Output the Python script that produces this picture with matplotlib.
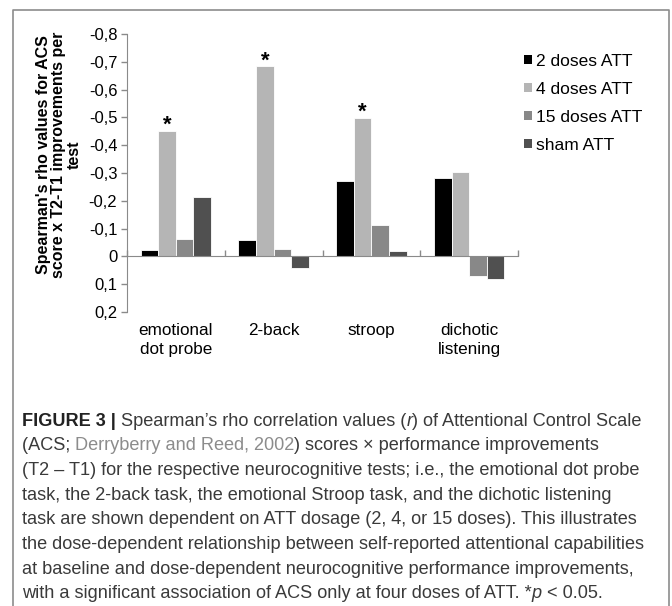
import numpy as np
import matplotlib
matplotlib.use('Agg')
import matplotlib.pyplot as plt
from matplotlib.patches import Patch
from matplotlib.ticker import FuncFormatter
import matplotlib.transforms as mtrans

plt.rcParams['font.family'] = ['Liberation Sans', 'DejaVu Sans']

# data (negative = upward, axis is inverted)
tests = ['emotional\ndot probe', '2-back', 'stroop', 'dichotic\nlistening']
series = ['2 doses ATT', '4 doses ATT', '15 doses ATT', 'sham ATT']
rho_2 = [-0.024, -0.059, -0.273, -0.283]
rho_4 = [-0.451, -0.684, -0.498, -0.304]
rho_15 = [-0.061, -0.025, -0.112, 0.070]
rho_sham = [-0.212, 0.041, -0.020, 0.082]
signif_4 = [True, True, True, False]
yticks = [-0.8, -0.7, -0.6, -0.5, -0.4, -0.3, -0.2, -0.1, 0, 0.1, 0.2]

cols = ['#000000', '#b5b5b5', '#888888', '#505050']
axcol = '#8a8a8a'
fs = 12

W, H = 672, 606
F1 = plt.figure(figsize=(W/100., H/100.), dpi=100)
ax1 = F1.add_axes([127/W, 1-312/H, (518-127)/W, (312-34)/H])

x = np.arange(len(tests)) + 0.5
bw = 0.18
allv = [rho_2, rho_4, rho_15, rho_sham]
for i, vals in enumerate(allv):
    ax1.bar(x + (i-1.5)*bw, vals, bw, color=cols[i], edgecolor='white', linewidth=0.6, label=series[i])

# asterisks over the 4-dose bars
for xi, v, s in zip(x, rho_4, signif_4):
    if s:
        ax1.text(xi - 0.5*bw, v + 0.018, '*', ha='center', va='bottom', fontsize=16, fontweight='bold')

ax1.set_xlim(0, len(tests))
ax1.set_ylim(0.2, -0.8)
ax1.set_yticks(yticks)
ax1.yaxis.set_major_formatter(FuncFormatter(lambda v, p: ('%g' % round(v, 1)).replace('.', ',')))
ax1.tick_params(axis='y', direction='out', length=4, width=1, color=axcol, labelsize=fs, pad=3)

ax1.spines['top'].set_visible(False)
ax1.spines['right'].set_visible(False)
ax1.spines['left'].set_color(axcol)
ax1.spines['bottom'].set_color(axcol)
ax1.spines['bottom'].set_position(('data', 0))
ax1.set_xticks(np.arange(len(tests)+1))
ax1.set_xticklabels([])
ax1.tick_params(axis='x', direction='in', length=4, width=1, color=axcol)

# category labels below the plot area
tr = mtrans.blended_transform_factory(ax1.transData, ax1.transAxes)
for xi, t in zip(x, tests):
    ax1.text(xi, -0.04, t, transform=tr, ha='center', va='top', fontsize=12.3, linespacing=1.3)

F1.text(59/W, 1-155/H, "Spearman's rho values for ACS\nscore x T2-T1 improvements per\ntest",
        rotation=90, ha='center', va='center', multialignment='center',
        fontsize=11.5, fontweight='bold', linespacing=1.0)

hnd = [Patch(facecolor=c, edgecolor='none') for c in cols]
F1.legend(hnd, series, loc='upper left', bbox_to_anchor=(517/W, 1-47/H), frameon=False,
          fontsize=12.5, handlelength=0.45, handleheight=0.45, handletextpad=0.25, labelspacing=0.75,
          borderaxespad=0)

# frame round chart and caption
fr = '#8c8c8c'
F1.add_artist(plt.Line2D([13/W, 13/W, 669/W, 669/W], [0, 1-10/H, 1-10/H, 0], color=fr, lw=1.2))

# caption, drawn segment by segment
capcol = '#3a3a3a'
gray = '#8c8c8c'
cfs = 13.1
cap = [
    [('FIGURE 3 |', {'fontweight': 'bold', 'color': '#222222'}), (' Spearman\u2019s rho correlation values (', {}),
     ('r', {'style': 'italic'}), (') of Attentional Control Scale', {})],
    [('(ACS; ', {}), ('Derryberry and Reed, 2002', {'color': gray}), (') scores \u00d7 performance improvements', {})],
    [('(T2 \u2013 T1) for the respective neurocognitive tests; i.e., the emotional dot probe', {})],
    [('task, the 2-back task, the emotional Stroop task, and the dichotic listening', {})],
    [('task are shown dependent on ATT dosage (2, 4, or 15 doses). This illustrates', {})],
    [('the dose-dependent relationship between self-reported attentional capabilities', {})],
    [('at baseline and dose-dependent neurocognitive performance improvements,', {})],
    [('with a significant association of ACS only at four doses of ATT. *', {}), ('p', {'style': 'italic'}),
     (' < 0.05.', {})],
]
rend = F1.canvas.get_renderer()
y0 = 421
dy = 24.7
for k, line in enumerate(cap):
    xp = 22
    for txt, kw in line:
        opts = {'color': capcol}
        opts.update(kw)
        t = F1.text(xp/W, 1-(y0 + k*dy)/H, txt, fontsize=cfs, va='center', ha='left', **opts)
        bb = t.get_window_extent(rend)
        xp += bb.width

F1.savefig('out.png', dpi=100, facecolor='white')
